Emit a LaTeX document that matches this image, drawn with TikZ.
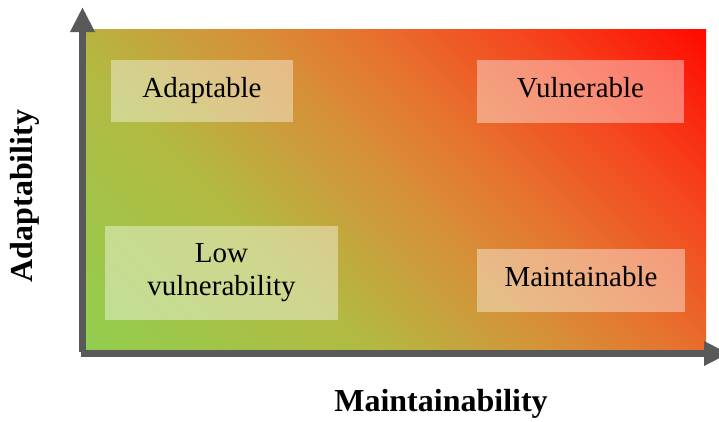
\documentclass[tikz,border=0pt]{standalone}
\usepackage{fontspec}
\setmainfont{Liberation Serif}
\usetikzlibrary{arrows.meta}

\definecolor{axisgray}{RGB}{89,89,89}
\definecolor{heatgreen}{RGB}{146,206,78}
\definecolor{heatolive}{RGB}{178,186,66}
\definecolor{heatgold}{RGB}{214,145,56}
\definecolor{heatorange}{RGB}{232,110,45}
\definecolor{heatscarlet}{RGB}{245,70,30}
\definecolor{heatred}{RGB}{255,10,0}
\pgfdeclarehorizontalshading{heatmap}{100bp}{color(0bp)=(heatgreen); color(25bp)=(heatgreen);
  color(40bp)=(heatolive); color(50bp)=(heatgold); color(57.5bp)=(heatorange);
  color(65bp)=(heatscarlet); color(75bp)=(heatred); color(100bp)=(heatred)}

\begin{document}
\begin{tikzpicture}[x=1pt, y=-1pt,
		axis/.style={draw=axisgray, line width=7pt, -{Triangle[length=25pt, width=23pt]}},
		quadrant/.style={fill=white, fill opacity=0.4, text opacity=1, inner sep=0pt, align=center, font=\fontsize{29}{33}\selectfont},
		oneline/.style={text height=20pt, text depth=8pt},
		axislabel/.style={font=\fontsize{32}{37}\selectfont\bfseries}]
		\useasboundingbox (0,0) rectangle (719,421);
		
		% Background
		\begin{scope}
			\clip (86,29) rectangle (706,349);
			\shade[shading=heatmap, shading angle=45] (396,189) +(-332.34,-332.34) rectangle +(332.34,332.34);
		\end{scope}
		
		% Axes
		\coordinate (yfoot) at (82.5,352);
		\coordinate (ytip) at (82.5,7);
		\coordinate (xfoot) at (81,353.5);
		\coordinate (xtip) at (729,353.5);
		\draw[axis] (yfoot) -- (ytip);
		\draw[axis] (xfoot) -- (xtip);
		
		% Quadrants
		\node[quadrant, oneline, minimum width=182pt, minimum height=62pt] (adaptable) at (202,91) {Adaptable};
		\node[quadrant, oneline, minimum width=207pt, minimum height=63pt] (vulnerable) at (580.5,91.5) {Vulnerable};
		\node[quadrant, minimum width=233pt, minimum height=94pt] (lowvuln) at (221.5,273) {Low\\vulnerability};
		\node[quadrant, oneline, minimum width=208pt, minimum height=63pt] (maintainable) at (581,280.5) {Maintainable};
		
		% Axis labels
		\node[axislabel, rotate=90] (ylabel) at (25,196) {Adaptability};
		\node[axislabel] (xlabel) at (441,404) {Maintainability};
		
	\end{tikzpicture}
\end{document}
